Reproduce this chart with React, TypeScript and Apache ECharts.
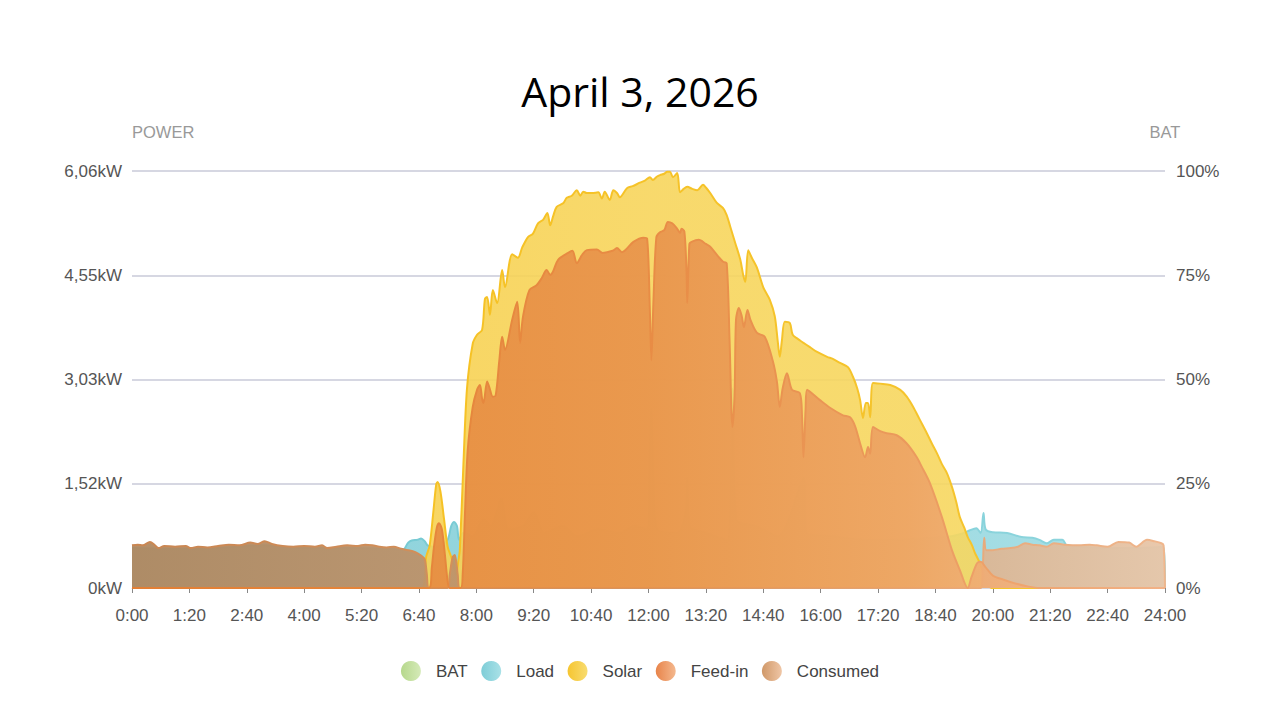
import React, { useEffect, useRef } from "react";
import * as echarts from "echarts";

const titleText = "April 3, 2026";
const legendNames = ["BAT", "Load", "Solar", "Feed-in", "Consumed"];
const yTickLabels = ["0kW", "1,52kW", "3,03kW", "4,55kW", "6,06kW"];
const batTickLabels = ["0%", "25%", "50%", "75%", "100%"];
const powerMax = 6.06;
const dayMinutes = 1440;
const xTickStep = 80;

// [minute of day, kW]
const bat: [number, number][] = [];

const load: [number, number][] = [
  [0, 0.58], [60, 0.57], [120, 0.58], [180, 0.62], [240, 0.58], [300, 0.58], [360, 0.57], [378, 0.56],
  [385, 0.66], [390, 0.69], [398, 0.7], [403, 0.72], [408, 0.68], [412, 0.62], [420, 0.6], [430, 0.62],
  [440, 0.7], [445, 0.9], [449, 0.96], [453, 0.9], [456, 0.7], [462, 0.8], [475, 0.75], [490, 1.0],
  [500, 0.9], [515, 1.3], [525, 0.85], [545, 0.9], [560, 1.1], [575, 0.8], [600, 0.9], [620, 0.75],
  [650, 0.85], [680, 0.8], [700, 0.9], [718, 0.85], [722, 2.0], [724, 2.6], [727, 1.5], [732, 0.85],
  [760, 0.8], [773, 1.2], [774, 1.6], [777, 0.9], [800, 0.8], [830, 0.7], [837, 2.9], [842, 1.0],
  [870, 0.9], [900, 0.75], [936, 1.6], [940, 0.8], [980, 0.75], [1020, 0.7], [1060, 0.7], [1100, 0.72],
  [1140, 0.75], [1160, 0.8], [1168, 0.84], [1177, 0.87], [1183, 0.8], [1187, 1.09], [1190, 0.85],
  [1200, 0.81], [1220, 0.8], [1240, 0.74], [1255, 0.73], [1265, 0.7], [1275, 0.65], [1285, 0.7],
  [1297, 0.7], [1303, 0.62], [1320, 0.6], [1360, 0.58], [1400, 0.58], [1438, 0.6], [1440, 0],
];

const solar: [number, number][] = [
  [0, 0], [404, 0], [410, 0.45], [415, 0.62], [420, 1.1], [424, 1.5], [426, 1.54], [430, 1.4],
  [435, 1.0], [440, 0.6], [445, 0.45], [449, 0.3], [452, 0.2], [455, 0.4], [457, 0.55], [462, 1.8],
  [467, 2.9], [475, 3.55], [481, 3.68], [488, 3.75], [492, 4.2], [495, 4.23], [499, 3.97], [503, 4.33],
  [509, 4.14], [516, 4.62], [520, 4.37], [530, 4.85], [538, 4.8], [544, 4.95], [552, 5.1], [559, 5.15],
  [566, 5.3], [573, 5.35], [579, 5.45], [583, 5.27], [587, 5.4], [592, 5.54], [601, 5.59], [606, 5.67],
  [613, 5.7], [620, 5.78], [625, 5.7], [629, 5.76], [634, 5.74], [641, 5.74], [650, 5.75], [655, 5.66],
  [659, 5.76], [666, 5.64], [671, 5.78], [676, 5.74], [680, 5.68], [690, 5.81], [698, 5.84], [708, 5.89],
  [715, 5.92], [722, 5.97], [726, 5.93], [732, 5.98], [736, 6.0], [742, 6.02], [746, 6.05], [750, 6.05],
  [754, 5.97], [760, 6.03], [764, 5.75], [769, 5.8], [774, 5.83], [781, 5.8], [788, 5.78], [796, 5.86],
  [800, 5.82], [806, 5.74], [815, 5.6], [824, 5.52], [829, 5.42], [834, 5.25], [841, 5.01], [848, 4.77],
  [852, 4.55], [855, 4.45], [859, 4.91], [864, 4.8], [871, 4.66], [880, 4.37], [889, 4.19], [896, 3.95],
  [900, 3.6], [903, 3.36], [906, 3.6], [910, 3.87], [917, 3.85], [921, 3.68], [928, 3.62], [935, 3.57],
  [945, 3.5], [955, 3.43], [969, 3.36], [977, 3.33], [987, 3.27], [998, 3.21], [1005, 3.07], [1011, 2.9],
  [1015, 2.73], [1019, 2.47], [1023, 2.69], [1026, 2.69], [1029, 2.48], [1033, 2.98], [1043, 2.97],
  [1057, 2.95], [1071, 2.88], [1080, 2.78], [1089, 2.63], [1098, 2.45], [1108, 2.25], [1115, 2.1],
  [1122, 1.96], [1129, 1.8], [1136, 1.67], [1143, 1.47], [1149, 1.25], [1154, 1.03], [1160, 0.88],
  [1165, 0.74], [1171, 0.62], [1175, 0.51], [1182, 0.36], [1188, 0.18], [1193, 0.05], [1200, 0], [1440, 0],
];

const feedIn: [number, number][] = [
  [0, 0], [414, 0], [418, 0.3], [421, 0.6], [425, 0.88], [428, 0.94], [432, 0.85], [436, 0.5], [440, 0.1],
  [443, 0], [458, 0], [461, 0.2], [464, 1.03], [468, 2.0], [475, 2.63], [481, 2.88], [485, 2.95], [488, 2.75],
  [490, 2.69], [495, 3.0], [498, 2.92], [503, 2.78], [507, 2.8], [512, 3.3], [516, 3.65], [520, 3.46],
  [530, 3.9], [537, 4.16], [541, 3.56], [545, 3.94], [554, 4.33], [564, 4.4], [571, 4.5], [578, 4.62],
  [583, 4.55], [587, 4.6], [594, 4.77], [608, 4.87], [614, 4.9], [620, 4.72], [628, 4.85], [634, 4.91],
  [648, 4.92], [656, 4.87], [670, 4.9], [676, 4.94], [683, 4.88], [699, 5.03], [713, 5.09], [718, 5.08],
  [722, 4.0], [724, 3.31], [727, 4.2], [731, 5.1], [736, 5.17], [742, 5.2], [747, 5.32], [753, 5.3],
  [760, 5.22], [764, 5.16], [766, 5.22], [770, 5.18], [773, 4.6], [774, 4.14], [777, 5.0], [780, 5.03],
  [790, 5.06], [800, 5.0], [806, 4.96], [817, 4.82], [824, 4.74], [829, 4.72], [833, 3.6], [837, 2.34],
  [840, 2.8], [842, 3.9], [846, 4.07], [850, 3.95], [853, 3.79], [858, 4.04], [862, 3.9], [871, 3.71],
  [882, 3.65], [893, 3.31], [899, 3.0], [903, 2.63], [907, 2.9], [913, 3.12], [920, 2.88], [931, 2.83],
  [934, 2.5], [936, 1.9], [939, 2.6], [941, 2.88], [959, 2.73], [973, 2.62], [991, 2.51], [1001, 2.48],
  [1008, 2.35], [1015, 2.1], [1022, 1.9], [1026, 2.05], [1029, 1.95], [1033, 2.34], [1043, 2.28],
  [1052, 2.25], [1066, 2.22], [1080, 2.1], [1094, 1.9], [1101, 1.76], [1112, 1.53], [1129, 1.03],
  [1143, 0.55], [1154, 0.26], [1165, 0], [1170, 0.15], [1178, 0.36], [1183, 0.38], [1190, 0.3],
  [1200, 0.18], [1215, 0.12], [1230, 0.07], [1250, 0.02], [1265, 0], [1440, 0],
];

const consumed: [number, number][] = [
  [0, 0.62], [8, 0.63], [15, 0.62], [25, 0.67], [32, 0.62], [37, 0.58], [45, 0.61], [60, 0.6], [75, 0.61],
  [82, 0.58], [92, 0.6], [105, 0.59], [120, 0.61], [135, 0.63], [150, 0.62], [165, 0.66], [175, 0.64],
  [185, 0.68], [195, 0.64], [210, 0.61], [225, 0.6], [240, 0.61], [255, 0.6], [265, 0.62], [272, 0.58],
  [285, 0.6], [300, 0.62], [315, 0.61], [325, 0.63], [335, 0.62], [345, 0.6], [355, 0.59], [365, 0.6],
  [375, 0.57], [385, 0.55], [395, 0.52], [403, 0.47], [408, 0.42], [411, 0.2], [414, 0], [440, 0],
  [443, 0.2], [447, 0.45], [450, 0.48], [454, 0.2], [457, 0], [1183, 0], [1186, 0.3], [1188, 0.73],
  [1191, 0.55], [1200, 0.55], [1212, 0.57], [1225, 0.58], [1235, 0.6], [1245, 0.65], [1255, 0.63],
  [1265, 0.62], [1275, 0.6], [1285, 0.65], [1300, 0.63], [1320, 0.62], [1335, 0.63], [1345, 0.62],
  [1360, 0.6], [1375, 0.67], [1390, 0.66], [1400, 0.6], [1415, 0.7], [1425, 0.68], [1435, 0.65],
  [1438, 0.62], [1440, 0],
];

const grad = (stops: string[]) =>
  new echarts.graphic.LinearGradient(
    0, 0, 1, 0,
    stops.map((c, i) => ({ offset: i / (stops.length - 1), color: c }))
  );

const legendColors: Record<string, string[]> = {
  BAT: ["#b6d88c", "#d5eab8"],
  Load: ["#7ecdd7", "#a9e1e7"],
  Solar: ["#f6c530", "#f8dc70"],
  "Feed-in": ["#e8844a", "#f4b88e"],
  Consumed: ["#d09868", "#efc6a6"],
};

const fmtTime = (v: number) => `${Math.floor(v / 60)}:${String(Math.round(v % 60)).padStart(2, "0")}`;

export default function App() {
  const ref = useRef<HTMLDivElement>(null);
  useEffect(() => {
    if (!ref.current) return;
    const chart = echarts.init(ref.current, undefined, { renderer: "svg" });
    const baseFont = "Liberation Sans";
    const areaSeries = (
      name: string,
      data: [number, number][],
      fill: string[],
      line: string[],
      opacity: number,
      z: number,
      yAxisIndex = 0
    ) => ({
      name,
      type: "line",
      yAxisIndex,
      z,
      data,
      smooth: 0.3,
      showSymbol: false,
      symbol: "none",
      itemStyle: { color: grad(legendColors[name]) },
      lineStyle: { width: 2, color: grad(line) },
      areaStyle: { color: grad(fill), opacity },
      emphasis: { disabled: true },
    });
    chart.setOption({
      animation: false,
      backgroundColor: "#ffffff",
      title: {
        text: titleText,
        left: "center",
        top: 65,
        textStyle: { fontFamily: "Open Sans", fontSize: 41, fontWeight: "normal", color: "#000" },
      },
      legend: {
        top: 656,
        left: "center",
        icon: "circle",
        itemWidth: 20,
        itemHeight: 20,
        itemGap: 13.5,
        textStyle: { fontFamily: baseFont, fontSize: 17, color: "#444", padding: [0, 0, 0, 10] },
        data: legendNames.map((n) => ({ name: n, itemStyle: { color: grad(legendColors[n]) } })),
      },
      grid: { left: 132, right: 115, top: 171, bottom: 132, containLabel: false },
      xAxis: {
        type: "value",
        min: 0,
        max: dayMinutes,
        interval: xTickStep,
        axisLine: { show: true, lineStyle: { color: "#d6d7e2", width: 1 } },
        axisTick: { show: true, length: 5, lineStyle: { color: "#888" } },
        axisLabel: { fontFamily: baseFont, fontSize: 17, color: "#555", margin: 19, formatter: fmtTime },
        splitLine: { show: false },
      },
      yAxis: [
        {
          type: "value",
          min: 0,
          max: powerMax,
          interval: powerMax / 4,
          name: "POWER",
          nameLocation: "end",
          nameGap: 31,
          nameTextStyle: { fontFamily: baseFont, fontSize: 16.5, color: "#999", align: "left" },
          axisLine: { show: false },
          axisTick: { show: false },
          axisLabel: {
            fontFamily: baseFont,
            fontSize: 17,
            color: "#555",
            margin: 10,
            formatter: (v: number) => yTickLabels[Math.round(v / (powerMax / 4))] ?? "",
          },
          splitLine: { show: true, lineStyle: { color: "#d6d7e2", width: 2 } },
        },
        {
          type: "value",
          min: 0,
          max: 100,
          interval: 25,
          name: "BAT",
          nameLocation: "end",
          nameGap: 31,
          nameTextStyle: { fontFamily: baseFont, fontSize: 16.5, color: "#999", align: "center" },
          axisLine: { show: false },
          axisTick: { show: false },
          axisLabel: {
            fontFamily: baseFont,
            fontSize: 17,
            color: "#555",
            margin: 11,
            formatter: (v: number) => batTickLabels[Math.round(v / 25)] ?? "",
          },
          splitLine: { show: false },
        },
      ],
      series: [
        areaSeries("BAT", bat, ["#b6d88c", "#d5eab8"], ["#a5cf78", "#c5e2a0"], 0.85, 2, 1),
        areaSeries("Load", load, ["#7ccbd5", "#9fdce3"], ["#6fc6d0", "#8fd6de"], 0.9, 3),
        areaSeries("Solar", solar, ["#f7cc45", "#f7d55c", "#f6d862"], ["#f6c020", "#f5c530"], 0.9, 4),
        areaSeries("Consumed", consumed, ["#b08860", "#c59a72", "#e8c6a8"], ["#c98652", "#d8955f", "#f0b68c"], 0.95, 5),
        areaSeries("Feed-in", feedIn, ["#e3843a", "#e6893f", "#e8924b", "#eda264", "#f5c29a"], ["#e27f35", "#e5853a", "#e88c45", "#eb9a5c", "#f2b287"], 0.9, 6),
      ],
    });
    return () => chart.dispose();
  }, []);
  return (
    <div
      ref={ref}
      style={{ position: "fixed", left: 0, top: 0, width: 1280, height: 720, background: "#fff" }}
    />
  );
}
